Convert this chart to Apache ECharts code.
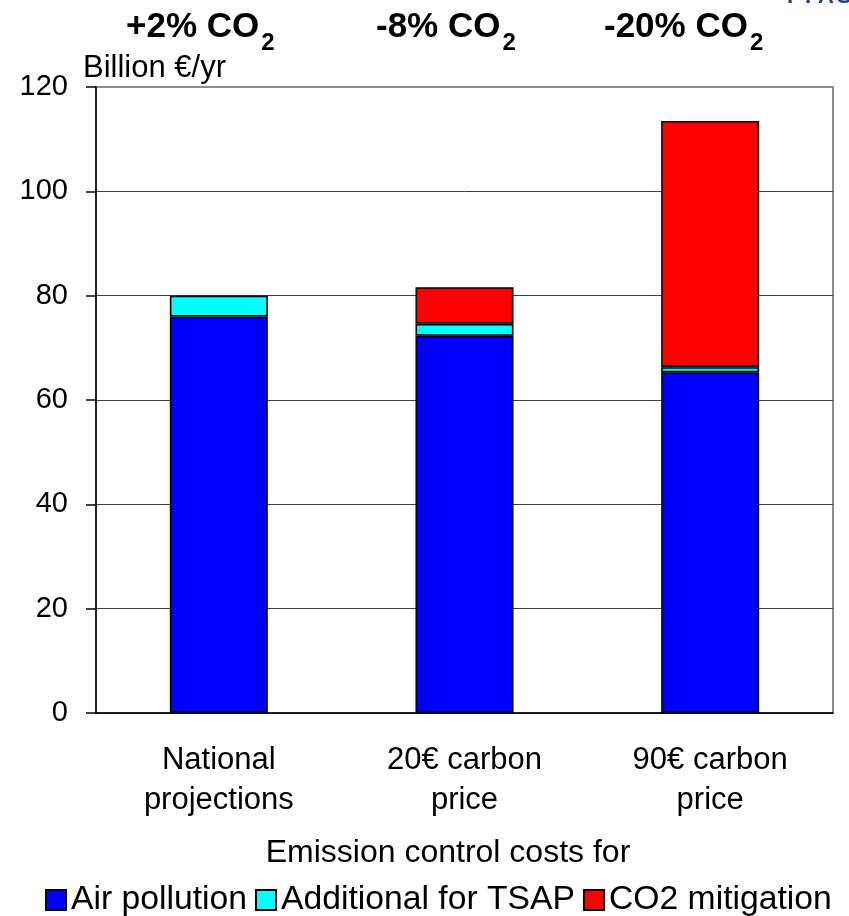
<!DOCTYPE html>
<html>
<head>
<meta charset="utf-8">
<script src="https://cdn.jsdelivr.net/npm/echarts@6/dist/echarts.min.js"></script>
<style>
  html, body { margin: 0; padding: 0; background: #fff; }
  #chart { width: 849px; height: 916px; }
</style>
</head>
<body>
<div id="chart"></div>
<script>
// Emission control cost scenarios (billion € per year)
const categories = ['National\nprojections', '20€ carbon\nprice', '90€ carbon\nprice'];
const airPollution = [76, 72.3, 65.3];
const additionalTSAP = [4, 2.3, 1.0];
const co2Mitigation = [0, 7, 47.2];
const seriesNames = ['Air pollution', 'Additional for TSAP', 'CO2 mitigation'];
const co2Change = ['+2%', '-8%', '-20%'];

const FONT = "'Liberation Sans', Arial, sans-serif";
const chart = echarts.init(document.getElementById('chart'), null, { renderer: 'canvas' });

// text measuring so the subscript "2" sits right after "CO"
const measureCtx = document.createElement('canvas').getContext('2d');
function textWidth(str, font) {
  measureCtx.font = font;
  return measureCtx.measureText(str).width;
}

const titleLeft = [126, 376, 604];
const titleGraphics = [];
co2Change.forEach((pct, i) => {
  const main = pct + ' CO';
  const w = textWidth(main, 'bold 35px ' + FONT);
  titleGraphics.push({
    type: 'text', x: titleLeft[i], y: 27,
    style: { text: main, font: 'bold 35px ' + FONT, fill: '#000', align: 'left', verticalAlign: 'middle' }
  });
  titleGraphics.push({
    type: 'text', x: titleLeft[i] + w + 2, y: 43,
    style: { text: '2', font: 'bold 24px ' + FONT, fill: '#000', align: 'left', verticalAlign: 'middle' }
  });
});

// corner logo lettering, mostly cut off by the top edge
const logoLetters = ['I', 'I', 'A', 'S', 'A'];
const logoGraphics = logoLetters.map((ch, i) => ({
  type: 'text', x: 790 + i * 18, y: 8,
  style: { text: ch, font: 'bold 22px ' + FONT, fill: '#1f3f97', align: 'center', verticalAlign: 'bottom' }
}));

const barBorder = { borderColor: '#000', borderWidth: 1.6 };

const option = {
  backgroundColor: '#fff',
  animation: false,
  grid: {
    left: 96, right: 16, top: 87, bottom: 203,
    show: true, borderColor: '#8c8c8c', borderWidth: 2, backgroundColor: 'transparent'
  },
  legend: {
    left: 45, top: 883, padding: 0,
    itemWidth: 20, itemHeight: 20, itemGap: 8,
    icon: 'rect',
    data: seriesNames,
    textStyle: { fontSize: 33.7, fontFamily: FONT, color: '#000' }
  },
  xAxis: {
    type: 'category',
    data: categories,
    axisLine: { lineStyle: { color: '#000', width: 1.5 } },
    axisTick: { show: false },
    axisLabel: { fontSize: 31, fontFamily: FONT, color: '#000', lineHeight: 40, margin: 27 }
  },
  yAxis: {
    type: 'value', min: 0, max: 120, interval: 20,
    axisLine: { show: true, lineStyle: { color: '#000', width: 1.5 } },
    axisTick: { show: true, length: 10, lineStyle: { color: '#000', width: 1.5 } },
    axisLabel: { fontSize: 29, fontFamily: FONT, color: '#000', margin: 28 },
    splitLine: { show: true, showMaxLine: false, lineStyle: { color: '#404040', width: 1 } }
  },
  series: [
    {
      name: seriesNames[0], type: 'bar', stack: 'cost', barWidth: 98,
      data: airPollution,
      itemStyle: Object.assign({ color: '#0000ff' }, barBorder)
    },
    {
      name: seriesNames[1], type: 'bar', stack: 'cost', barWidth: 98,
      data: additionalTSAP,
      itemStyle: Object.assign({ color: '#00ffff' }, barBorder)
    },
    {
      name: seriesNames[2], type: 'bar', stack: 'cost', barWidth: 98,
      data: co2Mitigation.map(v => (v === 0 ? '-' : v)),
      itemStyle: Object.assign({ color: '#ff0000' }, barBorder)
    }
  ],
  graphic: [
    {
      type: 'text', x: 83, y: 68,
      style: { text: 'Billion €/yr', font: '31px ' + FONT, fill: '#000', align: 'left', verticalAlign: 'middle' }
    },
    {
      type: 'text', x: 448, y: 853,
      style: { text: 'Emission control costs for', font: '32px ' + FONT, fill: '#000', align: 'center', verticalAlign: 'middle' }
    }
  ].concat(titleGraphics, logoGraphics)
};

chart.setOption(option);
</script>
</body>
</html>
